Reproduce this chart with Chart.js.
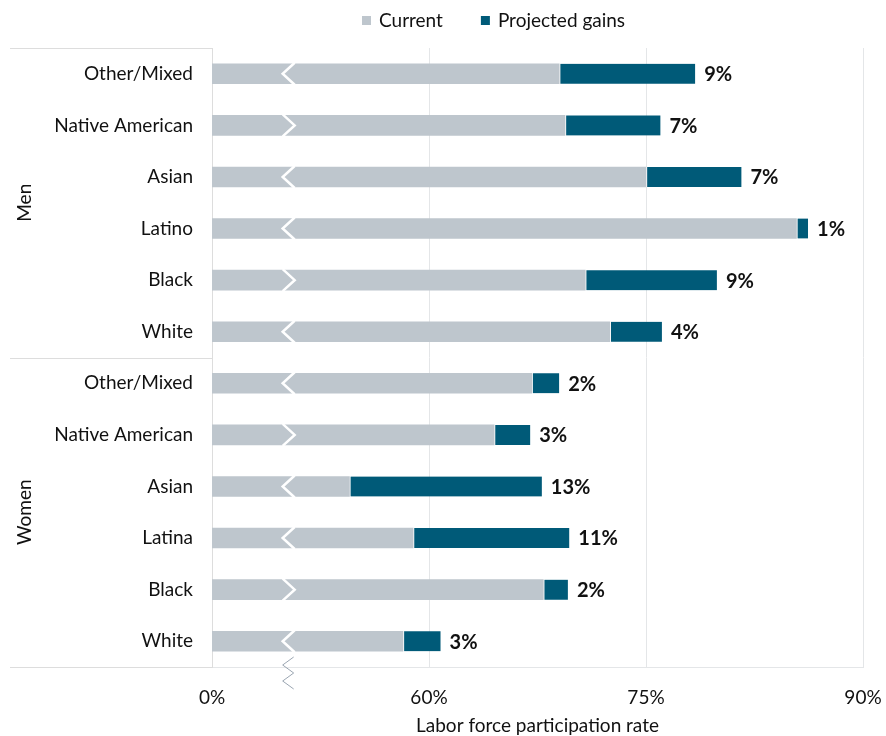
<!DOCTYPE html>
<html>
<head>
<meta charset="utf-8">
<script src="https://cdn.jsdelivr.net/npm/chart.js@4.4.1/dist/chart.umd.min.js"></script>
<style>
  html, body { margin: 0; padding: 0; background: #fff; }
  #wrap { width: 886px; height: 736px; }
</style>
</head>
<body>
<div id="wrap"><canvas id="chart" width="886" height="736"></canvas></div>
<script>
// categories (top to bottom)
const categories = [
    "Other/Mixed", "Native American", "Asian", "Latino", "Black", "White",
    "Other/Mixed", "Native American", "Asian", "Latina", "Black", "White"
];
const groups = ["Men", "Women"];
const groupSize = [6, 6];

// labor force participation rate, %
const current = [69.0, 69.4, 75.0, 85.4, 70.8, 72.5, 67.1, 64.5, 54.5, 58.9, 67.9, 58.2];
const gains   = [9.4, 6.6, 6.6, 0.8, 9.1, 3.6, 1.9, 2.5, 13.3, 10.8, 1.7, 2.6];
const gainLabels = ["9%", "7%", "7%", "1%", "9%", "4%", "2%", "3%", "13%", "11%", "2%", "3%"];

// axis is broken: 0% is shown where 45% would sit
const tickValues = [45, 60, 75, 90];
const tickLabels = ["0%", "60%", "75%", "90%"];
const axisBreak = 50.3;

const GRAY = "#BEC6CD";
const TEAL = "#005A78";
const FONT = "Lato, 'Open Sans', sans-serif";
const FS = 19;

// legend, group labels, data labels, axis break
const extras = {
    id: "extras",
    afterDatasetsDraw(chart) {
        const { ctx, chartArea, scales } = chart;
        const x = scales.x, y = scales.y;
        ctx.save();

        // data labels
        ctx.font = "bold 20px " + FONT;
        ctx.fillStyle = "#111";
        ctx.textBaseline = "middle";
        ctx.textAlign = "left";
        categories.forEach((c, i) => {
            const end = x.getPixelForValue(current[i] + gains[i]);
            ctx.fillText(gainLabels[i], end + 9, y.getPixelForValue(i) + 1);
        });

        // zigzag break on each bar
        const bx = x.getPixelForValue(axisBreak);
        const meta = chart.getDatasetMeta(0);
        ctx.strokeStyle = "#fff";
        ctx.lineWidth = 2.5;
        meta.data.forEach((bar, i) => {
            const top = bar.y - bar.height / 2, bot = bar.y + bar.height / 2;
            const flip = (i % 3 === 1) ? -1 : 1;
            ctx.beginPath();
            ctx.moveTo(bx + 6 * flip, top - 1);
            ctx.lineTo(bx - 6 * flip, bar.y);
            ctx.lineTo(bx + 6 * flip, bot + 1);
            ctx.stroke();
        });

        // zigzag on the axis
        ctx.strokeStyle = "#9AA5B1";
        ctx.lineWidth = 1;
        ctx.beginPath();
        const yb = chartArea.bottom - 10;
        ctx.moveTo(bx + 5, yb);
        for (let k = 1; k <= 4; k++) {
            ctx.lineTo(bx + (k % 2 ? -6 : 5), yb + k * 8);
        }
        ctx.stroke();
        ctx.restore();
    },
    afterDraw(chart) {
        const { ctx, chartArea, scales } = chart;
        const y = scales.y;
        ctx.save();

        // group frame lines
        ctx.strokeStyle = "#DDDDDD";
        ctx.lineWidth = 1;
        let start = 0;
        const bounds = [chartArea.top];
        groupSize.forEach(n => {
            start += n;
            const last = y.getPixelForValue(start - 1);
            const step = y.getPixelForValue(1) - y.getPixelForValue(0);
            bounds.push(last + step / 2);
        });
        bounds.forEach((b, i) => {
            const yy = Math.round(b) + 0.5;
            ctx.beginPath();
            ctx.moveTo(10, yy);
            ctx.lineTo(chartArea.left, yy);
            ctx.stroke();
        });

        // group labels
        ctx.font = FS + "px " + FONT;
        ctx.fillStyle = "#111";
        ctx.textAlign = "center";
        ctx.textBaseline = "middle";
        groups.forEach((g, i) => {
            const mid = (bounds[i] + bounds[i + 1]) / 2;
            ctx.save();
            ctx.translate(25, mid);
            ctx.rotate(-Math.PI / 2);
            ctx.fillText(g, 0, 0);
            ctx.restore();
        });

        // legend
        const items = [{ t: "Current", c: GRAY }, { t: "Projected gains", c: TEAL }];
        ctx.textAlign = "left";
        let lx = 362;
        items.forEach((it) => {
            ctx.fillStyle = it.c;
            ctx.fillRect(lx, 16, 9, 9);
            ctx.fillStyle = "#111";
            ctx.fillText(it.t, lx + 17, 21);
            lx += 17 + ctx.measureText(it.t).width + 38;
        });
        ctx.restore();
    }
};

new Chart(document.getElementById("chart"), {
    type: "bar",
    data: {
        labels: categories,
        datasets: [
            {
                label: "Current",
                data: current,
                backgroundColor: GRAY,
                barThickness: 20,
                borderWidth: 0
            },
            {
                label: "Projected gains",
                data: gains,
                backgroundColor: TEAL,
                barThickness: 20,
                borderColor: "#fff",
                borderWidth: { left: 1.5, top: 0, right: 0, bottom: 0 },
                borderSkipped: false
            }
        ]
    },
    options: {
        indexAxis: "y",
        responsive: false,
        animation: false,
        layout: { padding: { top: 48, right: 0, bottom: 0, left: 0 } },
        plugins: {
            legend: { display: false },
            tooltip: { enabled: false }
        },
        scales: {
            x: {
                stacked: true,
                min: 45,
                max: 90,
                afterBuildTicks: (scale) => {
                    scale.ticks = tickValues.map(v => ({ value: v }));
                },
                afterFit: (scale) => { scale.height = 69; scale.paddingRight = 23; },
                grid: { color: "#E4E6E8", drawTicks: false },
                border: { display: true, color: "#E4E6E8" },
                ticks: {
                    padding: 19,
                    color: "#111",
                    font: { family: FONT, size: FS },
                    callback: (v) => tickLabels[tickValues.indexOf(v)]
                },
                title: {
                    display: true,
                    text: "Labor force participation rate",
                    color: "#111",
                    font: { family: FONT, size: FS, lineHeight: 1.1 },
                    padding: { top: 0, bottom: 0 }
                }
            },
            y: {
                stacked: true,
                afterFit: (scale) => { scale.width = 212; },
                grid: { display: false, drawTicks: false },
                border: { display: true, color: "#DDDDDD" },
                ticks: {
                    padding: 19,
                    color: "#111",
                    font: { family: FONT, size: FS }
                }
            }
        }
    },
    plugins: [extras]
});
</script>
</body>
</html>
